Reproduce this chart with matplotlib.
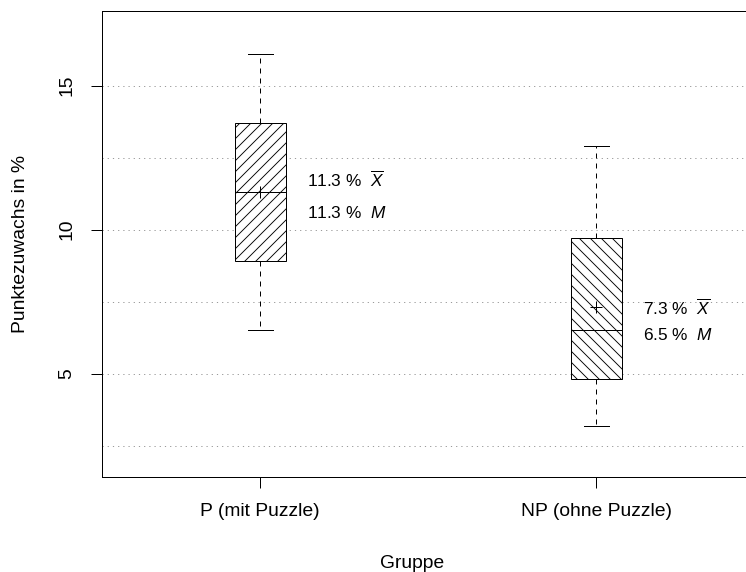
import matplotlib
matplotlib.use("Agg")
import matplotlib.pyplot as plt
from matplotlib.ticker import FixedLocator

# ---------------- data ----------------
groups = ["P (mit Puzzle)", "NP (ohne Puzzle)"]
whisker_low = [6.5, 3.2]
quartile_1 = [8.9, 4.8]
medians = [11.3, 6.5]
quartile_3 = [13.7, 9.7]
whisker_high = [16.1, 12.9]
means = [11.3, 7.3]
y_ticks = [5, 10, 15]
y_grid_minor = [2.5, 7.5, 12.5]
x_label = "Gruppe"
y_label = "Punktezuwachs in %"

# ---------------- layout / style ----------------
DPI = 66
PT = 72.0 / DPI          # points per pixel
W, H = 746, 572
hatches = ["//", "\\\\"]
label_dx = 0.139          # text offset right of box centre (data units)
label_y = [(11.48, 10.41), (7.03, 6.16)]  # baselines of the two text lines

plt.rcParams["font.family"] = ["Liberation Sans", "DejaVu Sans"]
plt.rcParams["mathtext.fontset"] = "custom"
plt.rcParams["mathtext.rm"] = "Liberation Sans"
plt.rcParams["mathtext.it"] = "Liberation Sans:italic"
plt.rcParams["hatch.linewidth"] = 0.9 * PT
plt.rcParams["hatch.color"] = "black"

fig = plt.figure(figsize=((W + 0.01) / DPI, (H + 0.01) / DPI), dpi=DPI)
left_px, right_px, top_px, bottom_px = 102, 760, 10.7, 477.3
ax = fig.add_axes([left_px / W, (H - bottom_px) / H,
                   (right_px - left_px) / W, (bottom_px - top_px) / H])

positions = list(range(1, len(groups) + 1))
stats = []
for i, g in enumerate(groups):
    stats.append(dict(label=g, whislo=whisker_low[i], q1=quartile_1[i],
                      med=medians[i], q3=quartile_3[i], whishi=whisker_high[i],
                      mean=means[i], fliers=[]))

lw = 1.0 * PT
bp = ax.bxp(stats, positions=positions, widths=0.152, capwidths=0.076,
            showmeans=True, meanline=False, patch_artist=True, manage_ticks=False,
            boxprops=dict(facecolor="white", edgecolor="black", linewidth=lw),
            whiskerprops=dict(color="black", linewidth=lw, linestyle=(0, (5, 5))),
            capprops=dict(color="black", linewidth=lw),
            medianprops=dict(color="black", linewidth=lw),
            meanprops=dict(marker="+", markersize=12 * PT, markeredgecolor="black",
                           markeredgewidth=lw, linestyle="none"))
for patch, h in zip(bp["boxes"], hatches):
    patch.set_hatch(h)
    patch.set_zorder(2)

for i, p in enumerate(positions):
    ax.text(p + label_dx, label_y[i][0], f"{means[i]:.1f} %  $\\overline{{X}}$",
            fontsize=17.3 * PT, ha="left", va="baseline", zorder=5)
    ax.text(p + label_dx, label_y[i][1], f"{medians[i]:.1f} %  $M$",
            fontsize=17.3 * PT, ha="left", va="baseline", zorder=5)

ax.set_xlim(0.529, 2.487)
ax.set_ylim(1.403, 17.604)

ax.set_xticks(positions)
ax.set_xticklabels(groups)
ax.set_yticks(y_ticks)
ax.set_yticklabels([str(t) for t in y_ticks])
ax.yaxis.set_minor_locator(FixedLocator(y_grid_minor))

ax.tick_params(axis="both", which="major", direction="out", length=11 * PT,
               width=lw, labelsize=19.3 * PT, colors="black")
ax.tick_params(axis="y", which="minor", length=0)
ax.tick_params(axis="x", which="major", pad=15 * PT)
ax.tick_params(axis="y", which="major", pad=24 * PT, labelrotation=90)
for lbl in ax.get_yticklabels():
    lbl.set_ha("center")
    lbl.set_va("center")

ax.set_axisbelow(True)
ax.grid(axis="y", which="both", color="#9a9a9a", linewidth=lw,
        linestyle=(0, (1.2, 4)))
ax.grid(axis="x", visible=False)

for s in ["left", "bottom", "top"]:
    ax.spines[s].set_linewidth(lw)
    ax.spines[s].set_color("black")
ax.spines["right"].set_visible(False)

fig.text(412 / W, 1 - 563 / H, x_label, fontsize=19.3 * PT, ha="center", va="center")
fig.text(20.5 / W, 1 - 243.5 / H, y_label, fontsize=19.3 * PT, ha="center",
         va="center", rotation=90)

fig.savefig("out.png", dpi=DPI)
